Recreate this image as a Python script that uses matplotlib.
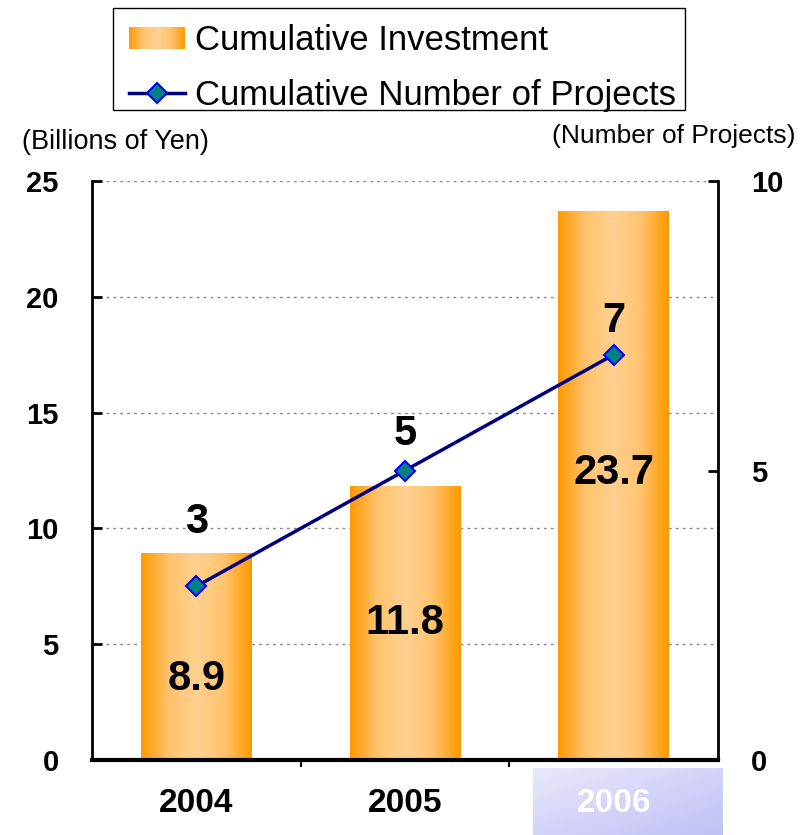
"""
Cumulative investment (bars) and cumulative number of projects (line).
"""

import matplotlib
matplotlib.use("Agg")
import matplotlib.pyplot as plt
import numpy as np
from matplotlib.legend_handler import HandlerBase
from matplotlib.lines import Line2D
from matplotlib.patches import Rectangle, Patch
from matplotlib.colors import LinearSegmentedColormap

plt.rcParams["font.family"] = ["Liberation Sans", "DejaVu Sans"]

# ------------------------------------------------------------------ #
# Data
# ------------------------------------------------------------------ #
years = ["2004", "2005", "2006"]
investment = [8.9, 11.8, 23.7]          # billions of yen
projects = [3, 5, 7]                    # cumulative number
investment_labels = ["8.9", "11.8", "23.7"]
project_labels = ["3", "5", "7"]

# layout only (where the labels sit)
inside_label_y = [3.5, 5.9, 12.4]
project_label_offset = [46, 26, 24]     # points above marker

bar_cmap = LinearSegmentedColormap.from_list(
    "bar", ["#ff9900", "#ffc36e", "#ffd08f", "#ffc36e", "#ff9900"])
label_cmap = LinearSegmentedColormap.from_list("lab", ["#e8e8fb", "#c0c0f6"])

W, H = 809, 835
fig = plt.figure(figsize=(W / 100, H / 100), dpi=100)

# gradient box behind the 2006 tick label
bg = fig.add_axes([533 / W, 0, 190 / W, 67 / H])
bg.set_zorder(0)
xx, yy = np.meshgrid(np.linspace(0, 1, 200), np.linspace(0, 1, 60))
bg.imshow(0.5 * xx + 0.5 * (1 - yy), cmap=label_cmap, aspect="auto",
          extent=(0, 1, 0, 1), origin="lower")
bg.axis("off")

ax = fig.add_axes([92 / W, 1 - 760 / H, 626 / W, 579 / H])
ax.set_zorder(1)
ax.patch.set_visible(False)
ax2 = ax.twinx()
ax2.set_zorder(2)

x = np.arange(len(years))
bar_w = 0.53
bars = ax.bar(x, investment, width=bar_w, color="none", edgecolor="none")

grad = np.linspace(0, 1, 256).reshape(1, -1)
for rect in bars:
    x0, y0 = rect.get_x(), rect.get_y()
    ax.imshow(grad, cmap=bar_cmap, aspect="auto", zorder=2,
              extent=(x0, x0 + rect.get_width(), y0, y0 + rect.get_height()))

for xi, yl, txt in zip(x, inside_label_y, investment_labels):
    ax.text(xi, yl, txt, ha="center", va="center", fontsize=30,
            fontweight="bold", zorder=5)

ax.set_xlim(-0.5, len(years) - 0.5)
ax.set_ylim(0, 25)
ax.set_yticks([0, 5, 10, 15, 20, 25])
ax.set_xticks(x)
ax.set_xticklabels(years)
ax.set_xticks(x[:-1] + 0.5, minor=True)
ax.yaxis.grid(True, color="#888888", linestyle=(0, (2, 3)), linewidth=1)
ax.set_axisbelow(True)
ax.tick_params(axis="y", direction="in", length=7, width=2, pad=24,
               labelsize=21)
ax.tick_params(axis="x", which="major", length=0, pad=20, labelsize=24)
ax.tick_params(axis="x", which="minor", direction="out", length=5, width=1.5)
for lab in ax.get_xticklabels() + ax.get_yticklabels():
    lab.set_fontweight("bold")
ax.get_xticklabels()[2].set_color("white")

ax.spines["top"].set_visible(False)
ax.spines["left"].set_linewidth(2)
ax.spines["bottom"].set_linewidth(3)

ax2.plot(x, projects, color="#000080", linewidth=2.5, marker="D",
         markersize=10, markerfacecolor="#008080", markeredgecolor="#0000ff",
         markeredgewidth=1.5, zorder=4)
for xi, yi, txt, off in zip(x, projects, project_labels, project_label_offset):
    ax2.annotate(txt, (xi, yi), xytext=(0, off), textcoords="offset points",
                 ha="center", va="center", fontsize=30, fontweight="bold")
ax2.set_ylim(0, 10)
ax2.set_yticks([0, 5, 10])
ax2.tick_params(axis="y", direction="in", length=7, width=2, pad=24,
                labelsize=21)
for lab in ax2.get_yticklabels():
    lab.set_fontweight("bold")
ax2.spines["top"].set_visible(False)
ax2.spines["right"].set_linewidth(2)

fig.text(22 / W, 1 - 142 / H, "(Billions of Yen)", fontsize=19.5,
         va="center", ha="left")
fig.text(796 / W, 1 - 136 / H, "(Number of Projects)", fontsize=19,
         va="center", ha="right")


# ------------------------------------------------------------------ #
# Legend (frame drawn separately so its size matches the original)
# ------------------------------------------------------------------ #
class HandlerGradient(HandlerBase):
    def create_artists(self, legend, orig_handle, xdescent, ydescent,
                       width, height, fontsize, trans):
        n = 40
        arts = []
        for i in range(n):
            r = Rectangle((-xdescent + width * i / n, -ydescent),
                          width / n + 0.3, height,
                          facecolor=bar_cmap((i + 0.5) / n),
                          edgecolor="none", transform=trans)
            arts.append(r)
        return arts


handles = [
    Patch(label="Cumulative Investment"),
    Line2D([], [], color="#000080", linewidth=2.5, marker="D", markersize=10,
           markerfacecolor="#008080", markeredgecolor="#0000ff",
           markeredgewidth=1.5, label="Cumulative Number of Projects"),
]
fig.legend(handles=handles, loc="upper left",
           bbox_to_anchor=(113 / W, 1 - 8 / H),
           handler_map={Patch: HandlerGradient()},
           fontsize=25, frameon=False, handlelength=1.6,
           handletextpad=0.3, handleheight=0.6, borderpad=0.47,
           labelspacing=0.62, borderaxespad=0)
fig.patches.append(Rectangle((113 / W, 1 - 110 / H), 572 / W, 102 / H,
                             transform=fig.transFigure, fill=False,
                             edgecolor="black", linewidth=1))

fig.savefig("out.png", dpi=100)
